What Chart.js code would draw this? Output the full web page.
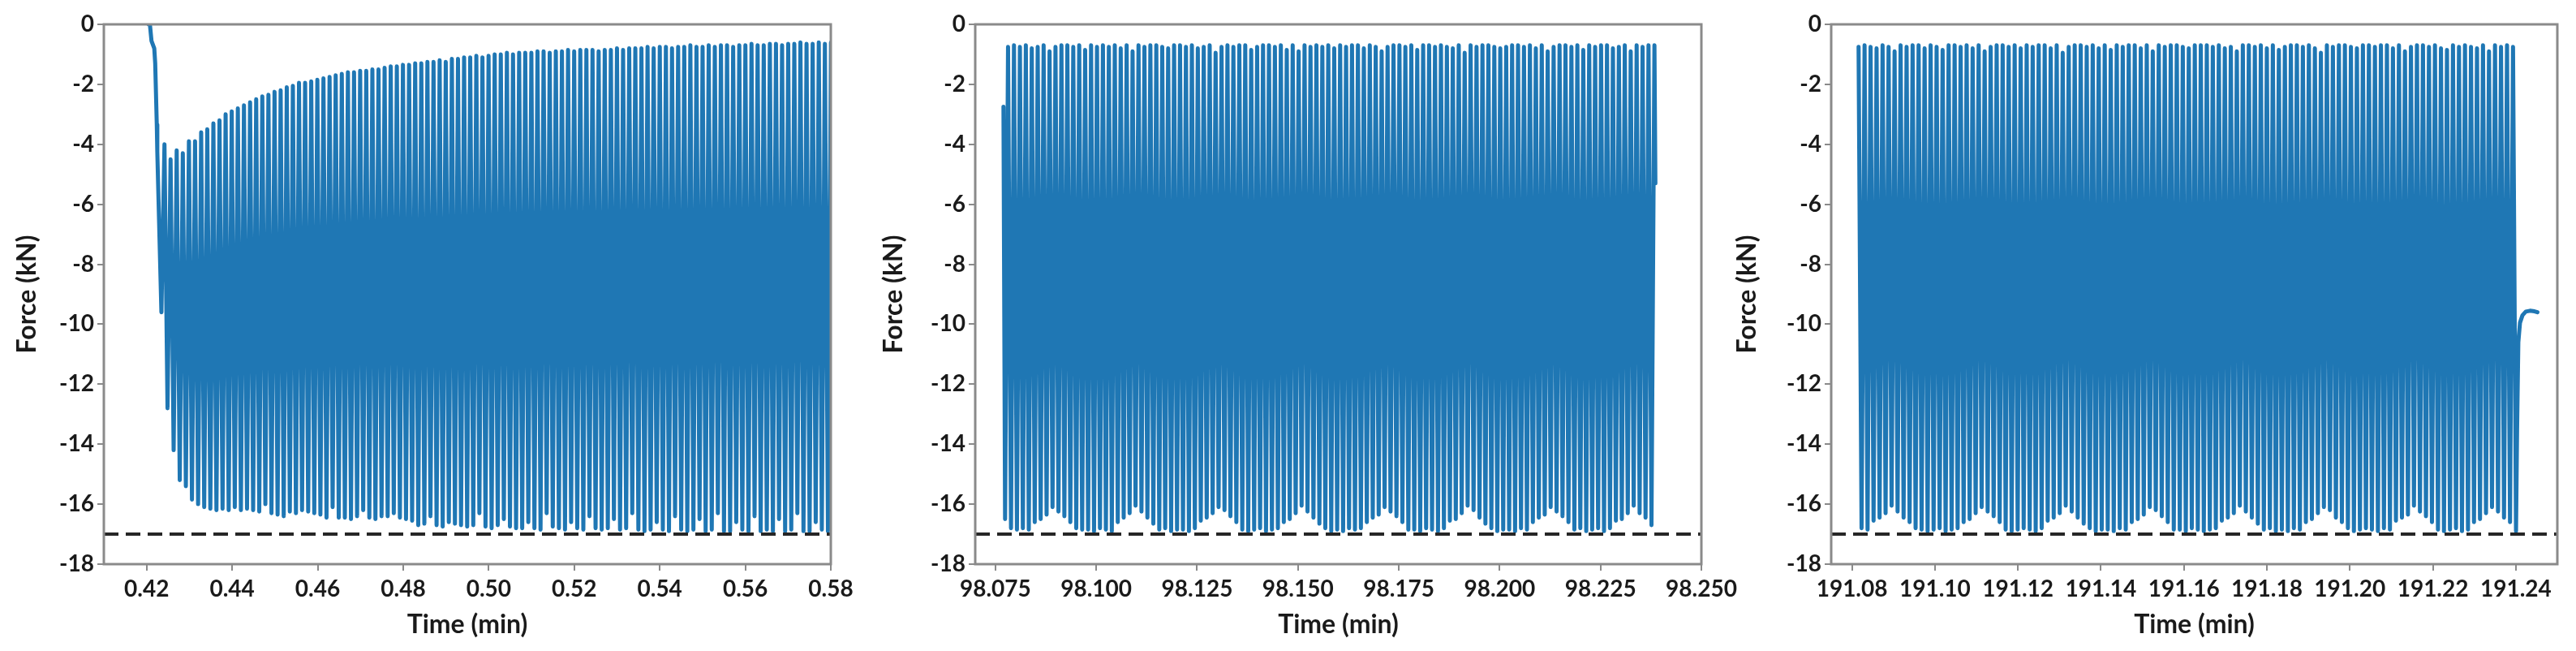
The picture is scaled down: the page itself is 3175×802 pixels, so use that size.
<!DOCTYPE html>
<html>
<head>
<meta charset="utf-8">
<script src="https://cdn.jsdelivr.net/npm/chart.js@4.4.1/dist/chart.umd.min.js"></script>
<style>
  body { margin: 0; background: #fff; width: 3175px; height: 802px; overflow: hidden; position: relative; }
  .panel { position: absolute; top: 0; }
</style>
</head>
<body>
<div class="panel" style="left:0px"><canvas id="c1" width="1060" height="802"></canvas></div>
<div class="panel" style="left:1060px"><canvas id="c2" width="1110" height="802"></canvas></div>
<div class="panel" style="left:2130px"><canvas id="c3" width="1045" height="802"></canvas></div>
<script>
// force (kN) against time (min)
const limitLoad = -17;
const yTicks = [0, -2, -4, -6, -8, -10, -12, -14, -16, -18];

// panel 1: start of the test
const xTicks1 = [0.42, 0.44, 0.46, 0.48, 0.50, 0.52, 0.54, 0.56, 0.58];
const startT1 = [0.4205, 0.42077, 0.42114, 0.42179, 0.42201, 0.42238, 0.4225];
const startF1 = [0, 0, -0.55, -0.8, -1.3, -3.35, -4.25];
const firstTrough1 = 0.42346;
const period1 = 0.00143;   // one load cycle
const troughs1 = [
  -9.6, -12.8, -14.2, -15.2, -15.4, -15.85, -16.0, -16.1, -16.15, -16.2,
  -16.15, -16.2, -16.1, -16.2, -16.15, -16.2, -16.25, -16.0, -16.3, -16.35,
  -16.4, -16.25, -16.3, -16.2, -16.25, -16.3, -16.35, -16.45, -16.1, -16.45,
  -16.45, -16.5, -16.4, -16.2, -16.45, -16.5, -16.4, -16.4, -16.3, -16.45,
  -16.5, -16.55, -16.7, -16.65, -16.4, -16.7, -16.75, -16.6, -16.65, -16.7,
  -16.75, -16.7, -16.3, -16.75, -16.8, -16.7, -16.5, -16.75, -16.8, -16.8,
  -16.6, -16.8, -16.85, -16.3, -16.75, -16.8, -16.85, -16.6, -16.8, -16.85,
  -16.4, -16.8, -16.85, -16.8, -16.5, -16.85, -16.8, -16.3, -16.85, -16.9,
  -16.85, -16.6, -16.85, -16.9, -16.4, -16.85, -16.9, -16.85, -16.5, -16.9,
  -16.85, -16.3, -16.9, -16.9, -16.6, -16.85, -16.9, -16.4, -16.9, -16.85,
  -16.9, -16.5, -16.9, -16.85, -16.3, -16.9, -16.9, -16.6, -16.85, -16.9
];
const peaks1 = [
  -4.0, -4.5, -4.2, -4.3, -3.9, -3.9, -3.6, -3.5, -3.3, -3.2,
  -3.0, -2.9, -2.8, -2.7, -2.6, -2.5, -2.4, -2.35, -2.25, -2.2,
  -2.1, -2.05, -1.95, -1.95, -1.9, -1.85, -1.8, -1.75, -1.7, -1.65,
  -1.6, -1.6, -1.55, -1.55, -1.5, -1.5, -1.45, -1.4, -1.4, -1.35,
  -1.35, -1.3, -1.3, -1.25, -1.25, -1.2, -1.25, -1.15, -1.15, -1.1,
  -1.1, -1.05, -1.1, -1.05, -1.0, -1.0, -0.95, -1.0, -0.95, -0.95,
  -0.95, -0.9, -0.9, -0.95, -0.9, -0.9, -0.85, -0.9, -0.85, -0.85,
  -0.85, -0.9, -0.85, -0.85, -0.8, -0.85, -0.8, -0.8, -0.8, -0.75,
  -0.8, -0.75, -0.75, -0.8, -0.75, -0.75, -0.7, -0.75, -0.75, -0.7,
  -0.75, -0.7, -0.7, -0.75, -0.7, -0.7, -0.65, -0.7, -0.7, -0.65,
  -0.65, -0.7, -0.65, -0.65, -0.6, -0.65, -0.65, -0.6, -0.65, -0.6
];

// panel 2: around 98 min
const xTicks2 = [98.075, 98.100, 98.125, 98.150, 98.175, 98.200, 98.225, 98.250];
const startT2 = [98.0770];
const startF2 = [-2.75];
const firstTrough2 = 98.0774;
const period2 = 0.00147;
const troughs2 = [
  -16.5, -16.8, -16.85, -16.8, -16.85, -16.6, -16.5, -16.35, -16.1, -16.25, -16.4, -16.6, -16.8, -16.85,
  -16.85, -16.9, -16.8, -16.85, -16.9, -16.6, -16.45, -16.3, -16.05, -16.25, -16.45, -16.65, -16.85, -16.8,
  -16.9, -16.85, -16.85, -16.9, -16.8, -16.55, -16.45, -16.3, -16.1, -16.2, -16.4, -16.6, -16.85, -16.9,
  -16.85, -16.8, -16.9, -16.85, -16.8, -16.6, -16.5, -16.3, -16.05, -16.25, -16.45, -16.65, -16.8, -16.9,
  -16.85, -16.9, -16.8, -16.85, -16.8, -16.6, -16.45, -16.35, -16.1, -16.25, -16.4, -16.6, -16.85, -16.85,
  -16.9, -16.8, -16.85, -16.9, -16.8, -16.55, -16.5, -16.3, -16.05, -16.2, -16.45, -16.65, -16.8, -16.9,
  -16.85, -16.85, -16.9, -16.8, -16.85, -16.6, -16.45, -16.35, -16.1, -16.25, -16.4, -16.6, -16.85, -16.8,
  -16.9, -16.85, -16.8, -16.9, -16.8, -16.55, -16.5, -16.3, -16.05, -16.3, -16.45, -16.7
];
const peaks2 = [
  -0.75, -0.7, -0.75, -0.7, -0.8, -0.75, -0.7, -0.9, -0.75, -0.7, -0.7, -0.75, -0.7, -0.85,
  -0.7, -0.75, -0.7, -0.75, -0.7, -0.8, -0.7, -0.9, -0.7, -0.75, -0.7, -0.7, -0.75, -0.8,
  -0.7, -0.7, -0.75, -0.7, -0.8, -0.75, -0.7, -0.95, -0.75, -0.7, -0.75, -0.7, -0.7, -0.85,
  -0.75, -0.7, -0.7, -0.75, -0.7, -0.85, -0.7, -0.9, -0.7, -0.75, -0.7, -0.75, -0.7, -0.8,
  -0.7, -0.75, -0.7, -0.7, -0.8, -0.7, -0.75, -0.9, -0.75, -0.7, -0.7, -0.75, -0.7, -0.85,
  -0.7, -0.7, -0.75, -0.7, -0.75, -0.8, -0.7, -0.95, -0.7, -0.75, -0.7, -0.7, -0.75, -0.8,
  -0.75, -0.7, -0.7, -0.75, -0.7, -0.8, -0.7, -0.9, -0.75, -0.7, -0.7, -0.75, -0.7, -0.85,
  -0.7, -0.75, -0.7, -0.7, -0.8, -0.75, -0.7, -0.9, -0.7, -0.75, -0.7, -0.7
];
const endT2 = [98.2386];
const endF2 = [-5.3];

// panel 3: end of the test
const xTicks3 = [191.08, 191.10, 191.12, 191.14, 191.16, 191.18, 191.20, 191.22, 191.24];
const startT3 = [191.0816];
const startF3 = [-0.75];
const firstTrough3 = 191.08232;
const period3 = 0.001447;
const troughs3 = [
  -16.8, -16.85, -16.55, -16.45, -16.3, -16.05, -16.25, -16.45, -16.6, -16.8, -16.85, -16.9, -16.85, -16.8,
  -16.9, -16.85, -16.8, -16.6, -16.5, -16.3, -16.1, -16.25, -16.4, -16.6, -16.85, -16.9, -16.85, -16.8,
  -16.85, -16.9, -16.8, -16.55, -16.45, -16.3, -16.05, -16.25, -16.45, -16.65, -16.8, -16.9, -16.85, -16.85,
  -16.9, -16.8, -16.85, -16.6, -16.5, -16.35, -16.1, -16.2, -16.4, -16.6, -16.85, -16.85, -16.9, -16.8,
  -16.85, -16.9, -16.85, -16.8, -16.55, -16.45, -16.3, -16.05, -16.25, -16.45, -16.65, -16.85, -16.8, -16.9,
  -16.85, -16.9, -16.8, -16.85, -16.6, -16.5, -16.3, -16.1, -16.2, -16.45, -16.6, -16.8, -16.9, -16.85,
  -16.8, -16.85, -16.9, -16.8, -16.85, -16.55, -16.45, -16.35, -16.05, -16.25, -16.4, -16.6, -16.85, -16.9,
  -16.85, -16.8, -16.9, -16.85, -16.6, -16.5, -16.3, -16.1, -16.25, -16.45, -16.6, -16.9
];
const peaks3 = [
  -0.7, -0.75, -0.8, -0.7, -0.75, -0.9, -0.7, -0.75, -0.7, -0.7, -0.8, -0.7, -0.75, -0.85,
  -0.7, -0.7, -0.75, -0.7, -0.8, -0.7, -0.9, -0.75, -0.7, -0.7, -0.75, -0.7, -0.8, -0.7,
  -0.75, -0.7, -0.7, -0.8, -0.7, -0.95, -0.75, -0.7, -0.7, -0.75, -0.7, -0.8, -0.7, -0.85,
  -0.7, -0.75, -0.7, -0.7, -0.8, -0.7, -0.9, -0.7, -0.75, -0.7, -0.7, -0.75, -0.8, -0.7,
  -0.7, -0.7, -0.75, -0.7, -0.8, -0.75, -0.9, -0.7, -0.7, -0.75, -0.7, -0.8, -0.7, -0.85,
  -0.75, -0.7, -0.7, -0.75, -0.7, -0.8, -0.95, -0.7, -0.75, -0.7, -0.7, -0.75, -0.8, -0.7,
  -0.7, -0.75, -0.7, -0.7, -0.8, -0.7, -0.9, -0.75, -0.7, -0.7, -0.75, -0.7, -0.8, -0.85,
  -0.7, -0.75, -0.7, -0.75, -0.8, -0.7, -0.9, -0.7, -0.75, -0.7, -0.75
];
const endT3 = [191.2403, 191.2406, 191.2410, 191.2416, 191.2424, 191.2434, 191.2445, 191.2452];
const endF3 = [-13.5, -10.6, -9.95, -9.7, -9.58, -9.55, -9.57, -9.6];

// ---- building the line ----
function pairs(ts, fs) {
  return ts.map((t, i) => ({ x: t, y: fs[i] }));
}

// trough k sits at t0 + k*period, the peak after it half a cycle later
function cycles(t0, period, troughs, peaks) {
  const pts = [];
  for (let k = 0; k < troughs.length; k++) {
    pts.push({ x: t0 + k * period, y: troughs[k] });
    if (k < peaks.length) pts.push({ x: t0 + (k + 0.5) * period, y: peaks[k] });
  }
  return pts;
}

const axisGray = '#8a8a8a';
const textColor = '#1a1a1a';
const tickFont = { family: 'Lato', size: 28, weight: 'bold' };
const titleFont = { family: 'Lato', size: 32, weight: 'bold' };

const boxPlugin = {
  id: 'box',
  afterDatasetsDraw(chart) {
    const { ctx, chartArea: a } = chart;
    ctx.save();
    ctx.strokeStyle = axisGray;
    ctx.lineWidth = 3;
    ctx.strokeRect(a.left, a.top, a.right - a.left, a.bottom - a.top);
    ctx.restore();
  }
};

function makeChart(id, p) {
  new Chart(document.getElementById(id), {
    type: 'line',
    data: {
      datasets: [
        {
          data: [{ x: p.min, y: limitLoad }, { x: p.max, y: limitLoad }],
          borderColor: '#262626', borderWidth: 4, borderDash: [18, 9],
          pointRadius: 0
        },
        {
          data: p.points,
          borderColor: '#1f77b4', borderWidth: 5, borderJoinStyle: 'round', borderCapStyle: 'round',
          pointRadius: 0, tension: 0
        }
      ]
    },
    options: {
      responsive: false,
      animation: false,
      devicePixelRatio: 1,
      events: [],
      layout: { padding: { top: 30, right: p.padRight, left: 0, bottom: 0 } },
      plugins: { legend: { display: false }, tooltip: { enabled: false } },
      scales: {
        x: {
          type: 'linear', min: p.min, max: p.max,
          afterBuildTicks: s => { s.ticks = p.ticks.map(v => ({ value: v })); },
          afterFit: s => { s.height = 107; s.paddingLeft = 0; s.paddingRight = 0; },
          ticks: {
            autoSkip: false, maxRotation: 0, padding: 6, color: textColor, font: tickFont,
            callback: v => v.toFixed(p.dec)
          },
          grid: { drawOnChartArea: false, tickLength: 8, color: axisGray, lineWidth: 2 },
          border: { display: false },
          title: { display: true, text: 'Time (min)', color: textColor, font: titleFont, padding: { top: 0, bottom: 13 } }
        },
        y: {
          min: -18, max: 0,
          afterBuildTicks: s => { s.ticks = yTicks.map(v => ({ value: v })); },
          afterFit: s => { s.width = p.yWidth; s.paddingTop = 0; s.paddingBottom = 0; },
          ticks: { padding: 4, color: textColor, font: tickFont },
          grid: { drawOnChartArea: false, tickLength: 8, color: axisGray, lineWidth: 2 },
          border: { display: false },
          title: { display: true, text: 'Force (kN)', color: textColor, font: titleFont, padding: { top: p.titlePad, bottom: 0 } }
        }
      }
    },
    plugins: [boxPlugin]
  });
}

makeChart('c1', {
  min: 0.41, max: 0.58, ticks: xTicks1, dec: 2, yWidth: 128, padRight: 36, titlePad: 14,
  points: pairs(startT1, startF1).concat(cycles(firstTrough1, period1, troughs1, peaks1))
});
makeChart('c2', {
  min: 98.07, max: 98.25, ticks: xTicks2, dec: 3, yWidth: 142, padRight: 73, titlePad: 22,
  points: pairs(startT2, startF2).concat(cycles(firstTrough2, period2, troughs2, peaks2), pairs(endT2, endF2))
});
makeChart('c3', {
  min: 191.075, max: 191.25, ticks: xTicks3, dec: 2, yWidth: 127, padRight: 23, titlePad: 4,
  points: pairs(startT3, startF3).concat(cycles(firstTrough3, period3, troughs3, peaks3), pairs(endT3, endF3))
});
</script>
</body>
</html>
